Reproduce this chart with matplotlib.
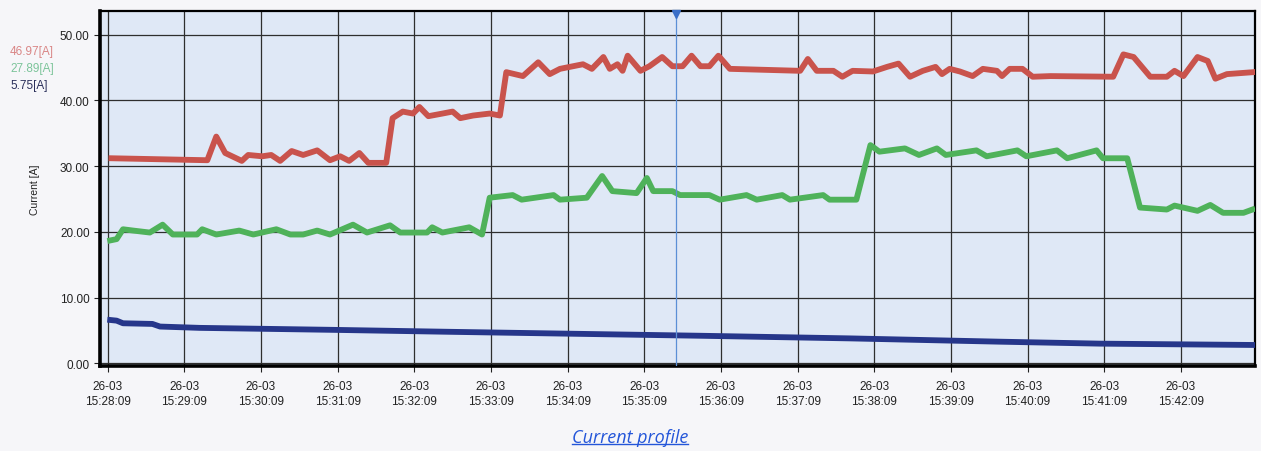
import matplotlib
matplotlib.use('Agg')
import matplotlib.pyplot as plt
import matplotlib.dates as mdates
import pandas as pd

# seconds after 26-03 15:28:09
START = pd.Timestamp("2024-03-26 15:28:09")

red_t = [3, 78, 85, 92, 105, 110, 121, 128, 135, 144, 153, 164, 174, 182, 189, 197, 204, 218,
         223, 231, 239, 244, 251, 262, 270, 276, 286, 299, 307, 312, 325, 337, 346, 354, 372,
         379, 388, 393, 399, 403, 407, 417, 424, 434, 442, 450, 457, 464, 471, 478, 487, 542,
         548, 555, 568, 575, 583, 599, 610, 619, 628, 638, 648, 653, 659, 667, 677, 685, 696,
         700, 706, 716, 724, 738, 787, 795, 803, 816, 829, 835, 842, 853, 861, 867, 876, 897]
red_v = [31.2, 30.9, 34.5, 32.0, 30.8, 31.7, 31.5, 31.7, 30.8, 32.3, 31.7, 32.4, 30.9, 31.5, 30.8,
         32.0, 30.5, 30.5, 37.3, 38.3, 38.0, 39.0, 37.6, 38.0, 38.3, 37.3, 37.7, 38.0, 37.7, 44.3,
         43.7, 45.8, 44.0, 44.8, 45.5, 44.8, 46.6, 44.8, 45.5, 44.5, 46.8, 44.5, 45.2, 46.6, 45.2,
         45.2, 46.8, 45.2, 45.2, 46.8, 44.8, 44.5, 46.3, 44.5, 44.5, 43.6, 44.5, 44.4, 45.1, 45.6,
         43.6, 44.5, 45.1, 44.0, 44.8, 44.4, 43.7, 44.8, 44.5, 43.7, 44.8, 44.8, 43.6, 43.7, 43.6,
         47.0, 46.6, 43.6, 43.6, 44.5, 43.7, 46.6, 46.0, 43.3, 44.0, 44.3]

green_t = [2, 7, 12, 20, 33, 43, 51, 70, 74, 85, 103, 114, 132, 143, 153, 164, 174, 192, 203,
           221, 229, 250, 254, 262, 283, 293, 299, 317, 324, 349, 354, 375, 387, 395, 414, 422,
           427, 442, 448, 471, 479, 500, 508, 528, 534, 560, 565, 586, 597, 604, 624, 635, 649,
           656, 680, 688, 712, 719, 743, 751, 774, 779, 798, 808, 829, 835, 853, 863, 873, 889, 896]
green_v = [18.7, 18.9, 20.4, 20.2, 19.9, 21.1, 19.6, 19.6, 20.4, 19.6, 20.2, 19.6, 20.4, 19.6,
           19.6, 20.2, 19.6, 21.1, 19.9, 21.0, 19.9, 19.9, 20.7, 19.9, 20.7, 19.6, 25.2, 25.6,
           24.9, 25.6, 24.9, 25.2, 28.5, 26.2, 25.9, 28.2, 26.2, 26.2, 25.6, 25.6, 24.9, 25.6,
           24.9, 25.6, 24.9, 25.6, 24.9, 24.9, 33.2, 32.2, 32.7, 31.7, 32.7, 31.7, 32.4, 31.5,
           32.4, 31.5, 32.4, 31.2, 32.4, 31.2, 31.2, 23.7, 23.4, 24.0, 23.2, 24.1, 22.9, 22.9, 23.4]

blue_t = [2, 7, 12, 35, 41, 72, 176, 268, 464, 581, 698, 777, 896]
blue_v = [6.6, 6.5, 6.1, 6.0, 5.6, 5.4, 5.1, 4.8, 4.2, 3.8, 3.3, 3.0, 2.8]

cursor_labels = ["46.97[A]", "27.89[A]", "5.75[A]"]
cursor_t = 445

tick_minutes = list(range(15))


def to_time(secs):
    return START + pd.to_timedelta(secs, unit="s")


plt.rcParams['font.family'] = ['Liberation Sans Narrow', 'Liberation Sans', 'DejaVu Sans']

fig = plt.figure(figsize=(12.61, 4.52), dpi=100)
fig.patch.set_facecolor('#f6f6f9')
ax = fig.add_axes([100 / 1261, 1 - 367 / 452, 1155 / 1261, 355 / 452])
ax.set_facecolor('#dfe8f6')

ax.plot(to_time(red_t), red_v, color='#c9534c', lw=4.2, solid_joinstyle='round', zorder=3)
ax.plot(to_time(green_t), green_v, color='#4fb25a', lw=4.2, solid_joinstyle='round', zorder=3)
ax.plot(to_time(blue_t), blue_v, color='#26368a', lw=4.2, solid_joinstyle='round', zorder=3)

# cursor
ct = mdates.date2num(to_time(cursor_t))
ax.axvline(ct, color='#5b8fd6', lw=0.9, zorder=4)
ax.plot([ct], [53.1], marker='v', color='#3b6fc8', ms=6, clip_on=False, zorder=5)

ticks = [to_time(m * 60) for m in tick_minutes]
ax.set_xticks(ticks)
ax.xaxis.set_major_formatter(mdates.DateFormatter('%d-%m\n%H:%M:%S'))
ax.set_xlim(to_time(-6), to_time(898))
ax.set_ylim(-0.4, 53.6)
ax.set_yticks([0, 10, 20, 30, 40, 50])
ax.set_yticklabels([f"{v:.2f}" for v in [0, 10, 20, 30, 40, 50]])
ax.grid(True, color='#2e2e2e', lw=0.9)
ax.set_axisbelow(True)
ax.tick_params(axis='both', labelsize=8.5, colors='#222222', length=4, width=0.8)
ax.tick_params(axis='x', pad=6)
for lab in ax.get_xticklabels():
    lab.set_linespacing(1.3)

for side in ['left', 'bottom']:
    ax.spines[side].set_linewidth(2.6)
for side in ['top', 'right']:
    ax.spines[side].set_linewidth(1.6)

ax.set_ylabel("Current [A]", fontsize=7.5, color='#222222', labelpad=14)

label_colors = ['#d98585', '#7cc49a', '#2a2f5a']
for i, (txt, c) in enumerate(zip(cursor_labels, label_colors)):
    fig.text(10 / 1261, 1 - (52 + i * 17) / 452, txt, fontsize=8.5, color=c, va='center', ha='left')

title = fig.text(630 / 1261, 1 - 438 / 452, "Current profile", fontsize=13, color='#2456d9',
                 style='italic', ha='center', va='center', family=['Open Sans', 'DejaVu Sans'])
fig.canvas.draw()
bb = title.get_window_extent().transformed(fig.transFigure.inverted())
fig.add_artist(plt.Line2D([bb.x0, bb.x1], [bb.y0 + 0.004, bb.y0 + 0.004], color='#2456d9', lw=1.0))

fig.savefig('out.png', dpi=100, facecolor=fig.get_facecolor())
